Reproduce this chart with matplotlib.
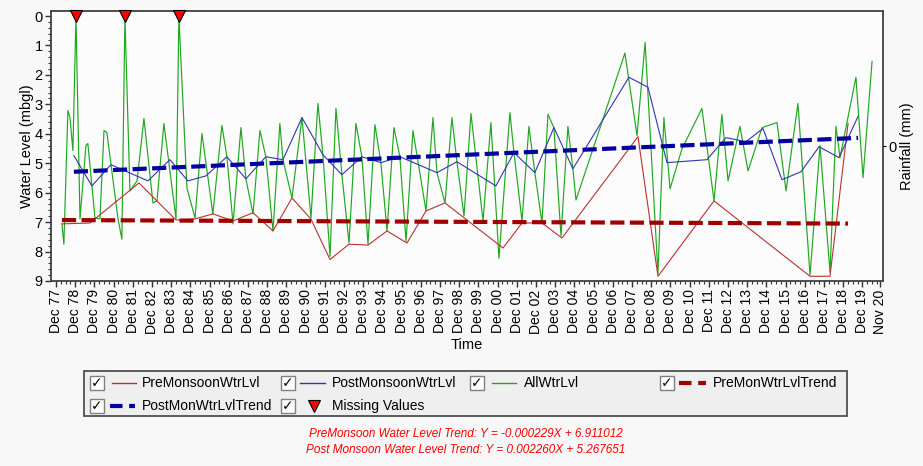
import matplotlib
matplotlib.use("Agg")
import matplotlib.pyplot as plt
import matplotlib.ticker as ticker
from matplotlib.lines import Line2D
from matplotlib.patches import Rectangle

plt.rcParams["font.family"] = ["Liberation Sans", "DejaVu Sans"]

# ── data (decimal years, water level in m below ground) ─────────────────────
pre_year = [1978.23, 1979.69, 1982.24, 1984.17, 1985.16, 1986.09, 1987.14, 1988.18,
            1989.22, 1990.21, 1991.20, 1992.19, 1993.18, 1994.17, 1995.16, 1996.20,
            1997.19, 1998.18, 2001.20, 2002.19, 2003.23, 2004.27, 2008.23, 2009.27,
            2012.19, 2017.19, 2018.23, 2019.17]
pre_lvl = [7.06, 7.03, 5.67, 6.93, 6.89, 6.72, 6.96, 6.68,
           7.30, 6.18, 6.90, 8.27, 7.75, 7.78, 7.30, 7.71,
           6.62, 6.35, 7.88, 7.03, 7.03, 7.54, 4.10, 8.84,
           6.28, 8.84, 8.84, 3.65]

post_year = [1978.85, 1979.79, 1980.78, 1982.71, 1983.85, 1984.79, 1985.73, 1986.82,
             1987.81, 1988.85, 1989.74, 1990.73, 1991.82, 1992.81, 1993.85, 1994.84,
             1995.83, 1997.76, 1998.80, 2000.83, 2001.77, 2002.86, 2003.85, 2004.84,
             2007.76, 2008.75, 2009.74, 2011.82, 2012.81, 2013.85, 2014.74, 2015.73,
             2016.72, 2017.66, 2018.70, 2019.69]
post_lvl = [4.74, 5.77, 5.05, 5.60, 4.88, 5.60, 5.43, 4.78,
            5.53, 4.78, 4.88, 3.45, 4.71, 5.39, 4.78, 4.98,
            4.78, 5.32, 4.95, 5.77, 4.64, 5.32, 3.79, 5.19,
            2.08, 2.42, 4.98, 4.88, 4.13, 4.27, 3.82, 5.56,
            5.29, 4.44, 4.81, 3.41]

all_year = [1978.23, 1978.33, 1978.54, 1978.65, 1978.80, 1978.96, 1979.17, 1979.48,
            1979.58, 1979.95, 1980.21, 1980.42, 1980.57, 1981.15, 1981.35, 1981.51,
            1981.77, 1982.14, 1982.50, 1982.97, 1983.18, 1983.54, 1984.17, 1984.32,
            1984.74, 1985.16, 1985.52, 1986.09, 1986.56, 1986.82, 1987.14, 1987.55,
            1987.81, 1988.18, 1988.54, 1988.85, 1989.22, 1989.58, 1989.74, 1990.21,
            1990.73, 1991.20, 1991.56, 1991.82, 1992.19, 1992.50, 1992.81, 1993.18,
            1993.54, 1993.85, 1994.17, 1994.53, 1994.84, 1995.16, 1995.52, 1995.83,
            1996.15, 1996.51, 1997.19, 1997.55, 1997.76, 1998.18, 1998.54, 1998.80,
            1999.17, 1999.53, 2000.16, 2000.57, 2000.99, 2001.56, 2001.77, 2002.19,
            2002.55, 2002.86, 2003.23, 2003.54, 2003.85, 2004.22, 2004.58, 2004.84,
            2005.00, 2007.55, 2008.18, 2008.60, 2009.27, 2009.58, 2009.90, 2010.52,
            2011.56, 2012.19, 2012.60, 2012.92, 2013.54, 2013.96, 2014.69, 2015.47,
            2015.94, 2016.56, 2017.19, 2017.71, 2018.23, 2018.54, 2018.75, 2019.58,
            2019.95, 2020.42]
all_lvl = [7.06, 7.75, 3.21, 3.45, 4.57, 0.00, 6.89, 4.40,
           4.33, 6.86, 6.89, 3.89, 3.96, 6.89, 7.58, 0.00,
           5.94, 5.60, 3.48, 6.35, 6.28, 3.65, 6.89, 0.00,
           5.84, 6.86, 3.99, 6.72, 3.72, 4.78, 7.06, 3.79,
           5.53, 6.72, 3.89, 4.78, 7.30, 3.65, 4.88, 6.18,
           3.45, 6.86, 2.97, 4.71, 8.16, 3.14, 5.39, 7.71,
           3.65, 4.78, 7.75, 3.69, 4.98, 7.30, 3.79, 4.78,
           7.65, 3.89, 6.62, 3.45, 5.32, 6.35, 3.45, 4.95,
           6.79, 3.31, 6.96, 3.62, 8.23, 3.28, 4.64, 6.96,
           3.75, 5.32, 7.03, 3.34, 3.79, 7.47, 3.75, 5.19,
           6.25, 1.26, 4.06, 0.89, 8.74, 3.45, 5.87, 4.51,
           3.14, 6.28, 3.34, 5.60, 3.75, 5.26, 3.79, 3.62,
           5.94, 2.97, 8.80, 4.40, 8.70, 3.75, 4.81, 2.08,
           5.49, 1.54]

missing_year = [1978.96, 1981.51, 1984.32]

pre_trend_year = [1978.23, 2019.17]
pre_trend_lvl = [6.93, 7.05]
post_trend_year = [1978.85, 2019.69]
post_trend_lvl = [5.29, 4.14]

tick_years = list(range(1977, 2020))   # "Dec YY" ticks
last_tick = ("Nov 20", 2020.833)

pre_eq = "PreMonsoon Water Level Trend: Y = -0.000229X + 6.911012"
post_eq = "Post Monsoon Water Level Trend: Y = 0.002260X + 5.267651"

# ── style ───────────────────────────────────────────────────────────────────
W, H = 923, 466
C_PRE = "#b83232"
C_POST = "#3434b4"
C_ALL = "#1ea81e"
C_PRE_TR = "#a00000"
C_POST_TR = "#0000a0"
BG = "#f8f8f8"


def fx(x):
    return x / W


def fy(y):
    return 1 - y / H


fig = plt.figure(figsize=(W / 100, H / 100), dpi=100)
fig.patch.set_facecolor(BG)
ax = fig.add_axes([fx(51), fy(281), (883 - 51) / W, (281 - 11) / H])
ax.set_facecolor("#fcfcfc")

ax.plot(pre_year, pre_lvl, color=C_PRE, lw=0.8, zorder=3)
ax.plot(post_year, post_lvl, color=C_POST, lw=0.8, zorder=3)
ax.plot(all_year, all_lvl, color=C_ALL, lw=0.85, zorder=2)
ax.plot(pre_trend_year, pre_trend_lvl, color=C_PRE_TR, lw=3.0,
        dashes=(3.4, 1.3), zorder=4)
ax.plot(post_trend_year, post_trend_lvl, color=C_POST_TR, lw=3.0,
        dashes=(3.4, 1.3), zorder=4)
ax.plot(missing_year, [0] * len(missing_year), ls="none", marker="v",
        markersize=8.5, markerfacecolor="#ff0000", markeredgecolor="black",
        markeredgewidth=0.8, clip_on=False, zorder=6)

ax.set_xlim(1977.66, 2020.99)
ax.set_ylim(9.0, -0.17)

major = [y + 0.917 for y in tick_years] + [last_tick[1]]
labels = [f"Dec {y % 100:02d}" for y in tick_years] + [last_tick[0]]
ax.set_xticks(major)
ax.set_xticklabels(labels, rotation=90, fontsize=10)
ax.xaxis.set_minor_locator(ticker.FixedLocator(
    [m + q for m in major[:-1] for q in (0.25, 0.5, 0.75)]))
ax.set_yticks(range(10))
ax.yaxis.set_minor_locator(ticker.MultipleLocator(0.2))
ax.tick_params(axis="y", which="major", length=4, width=1, color="#333",
               labelsize=10.5, pad=2)
ax.tick_params(axis="x", which="major", length=4, width=1, color="#333",
               labelsize=10, pad=2)
ax.tick_params(axis="both", which="minor", length=2, width=0.8, color="#333")
for s in ax.spines.values():
    s.set_color("#404040")
    s.set_linewidth(1.3)

ax.set_xlabel("Time", fontsize=10.5, labelpad=3)
ax.set_ylabel("Water Level (mbgl)", fontsize=10.5)
ax.yaxis.set_label_coords(-0.021, 0.5)

ax2 = ax.twinx()
ax2.set_ylim(-1, 1)
ax2.set_yticks([0])
ax2.tick_params(axis="y", length=2, labelsize=10.5, pad=2)
ax2.set_ylabel("Rainfall (mm)", fontsize=10.5)
ax2.yaxis.set_label_coords(1.021, 0.5)
for s in ax2.spines.values():
    s.set_visible(False)

# ── legend panel (drawn by hand, checkbox style) ───────────────────────────
fig.add_artist(Rectangle((fx(84), fy(416)), (847 - 84) / W, (416 - 371) / H,
                         transform=fig.transFigure, facecolor="#efefef",
                         edgecolor="#505050", lw=1.3))

entries = [
    (97, 383, "line", C_PRE, 112, 136, 142, "PreMonsoonWtrLvl"),
    (288, 383, "line", C_POST, 300, 325, 332, "PostMonsoonWtrLvl"),
    (477, 383, "line", C_ALL, 492, 516, 524, "AllWtrLvl"),
    (667, 383, "dash", C_PRE_TR, 679, 706, 713, "PreMonWtrLvlTrend"),
    (97, 406, "dash", C_POST_TR, 110, 135, 142, "PostMonWtrLvlTrend"),
    (288, 406, "tri", "#ff0000", 308, 320, 332, "Missing Values"),
]
for cx, cy, kind, col, x0, x1, tx, label in entries:
    fig.add_artist(Rectangle((fx(cx - 7), fy(cy + 7)), 14 / W, 14 / H,
                             transform=fig.transFigure, facecolor="white",
                             edgecolor="#808080", lw=1))
    fig.text(fx(cx), fy(cy), "\u2713", ha="center", va="center",
             fontsize=10, fontweight="bold", family="DejaVu Sans")
    if kind == "line":
        fig.add_artist(Line2D([fx(x0), fx(x1)], [fy(cy), fy(cy)],
                              transform=fig.transFigure, color=col, lw=1))
    elif kind == "dash":
        fig.add_artist(Line2D([fx(x0), fx(x1)], [fy(cy), fy(cy)],
                              transform=fig.transFigure, color=col, lw=3.0,
                              dashes=(3.0, 1.6)))
    else:
        fig.add_artist(Line2D([fx((x0 + x1) / 2)], [fy(cy)],
                              transform=fig.transFigure, ls="none", marker="v",
                              markersize=8.5, markerfacecolor=col,
                              markeredgecolor="black", markeredgewidth=0.8))
    fig.text(fx(tx), fy(cy), label, ha="left", va="center", fontsize=10)

fig.text(fx(466), fy(434), pre_eq, ha="center", va="center", fontsize=8.5,
         style="italic", color="#ff0000")
fig.text(fx(466), fy(450), post_eq, ha="center", va="center", fontsize=8.5,
         style="italic", color="#ff0000")

fig.savefig("out.png", dpi=100, facecolor=BG)
